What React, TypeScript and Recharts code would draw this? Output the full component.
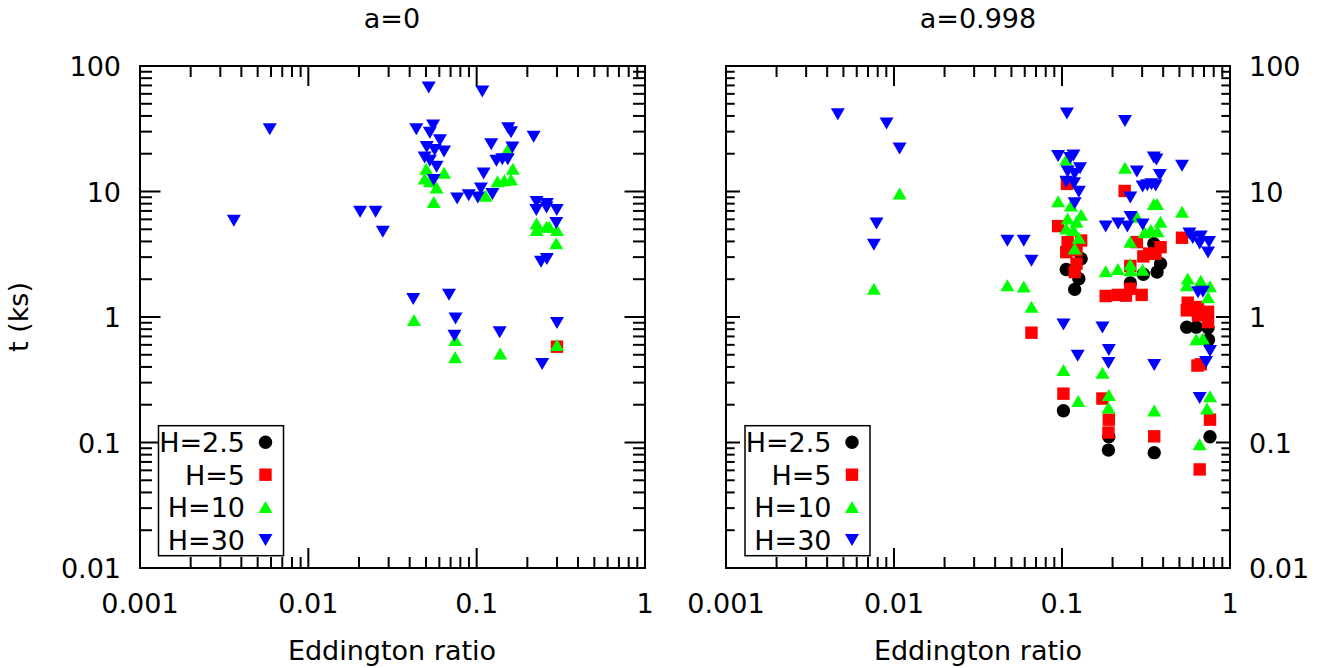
import React from 'react'
import { ScatterChart, Scatter, XAxis, YAxis } from 'recharts'

const FONT = '"DejaVu Sans", sans-serif'
const FS = 27

const xMajor = [0.001, 0.01, 0.1, 1]
const xLabels = ['0.001', '0.01', '0.1', '1']
const xMinor = [
  0.002, 0.003, 0.004, 0.005, 0.006, 0.007, 0.008, 0.009,
  0.02, 0.03, 0.04, 0.05, 0.06, 0.07, 0.08, 0.09,
  0.2, 0.3, 0.4, 0.5, 0.6, 0.7, 0.8, 0.9,
]
const yMajor = [0.01, 0.1, 1, 10, 100]
const yLabels = ['0.01', '0.1', '1', '10', '100']
const yMinor = [
  0.02, 0.03, 0.04, 0.05, 0.06, 0.07, 0.08, 0.09,
  0.2, 0.3, 0.4, 0.5, 0.6, 0.7, 0.8, 0.9,
  2, 3, 4, 5, 6, 7, 8, 9,
  20, 30, 40, 50, 60, 70, 80, 90,
]

const seriesNames = ['H=2.5', 'H=5', 'H=10', 'H=30']
const seriesColors = ['#000000', '#ff0000', '#00ff00', '#0000ff']
const seriesShapes = ['circle', 'square', 'up', 'down']

// a=0
const leftH25: { x: number; y: number }[] = []
const leftH5 = [{ x: 0.3, y: 0.58 }]
const leftH10 = [
  { x: 0.0502, y: 15.1 }, { x: 0.0491, y: 12.6 }, { x: 0.0527, y: 12.0 }, { x: 0.064, y: 14.0 },
  { x: 0.0578, y: 10.7 }, { x: 0.0556, y: 8.2 }, { x: 0.152, y: 21.2 }, { x: 0.164, y: 15.1 },
  { x: 0.133, y: 12.0 }, { x: 0.146, y: 12.2 }, { x: 0.16, y: 12.4 }, { x: 0.113, y: 9.2 },
  { x: 0.227, y: 5.53 }, { x: 0.227, y: 4.9 }, { x: 0.26, y: 5.2 }, { x: 0.27, y: 5.2 },
  { x: 0.3, y: 4.9 }, { x: 0.297, y: 3.84 }, { x: 0.0424, y: 0.94 }, { x: 0.0748, y: 0.652 },
  { x: 0.0745, y: 0.475 }, { x: 0.138, y: 0.51 }, { x: 0.3, y: 0.595 },
]
const leftH30 = [
  { x: 0.0059, y: 31.5 }, { x: 0.00361, y: 5.88 }, { x: 0.0203, y: 6.93 }, { x: 0.0251, y: 6.95 },
  { x: 0.0277, y: 4.8 }, { x: 0.0519, y: 67.7 }, { x: 0.108, y: 62.9 }, { x: 0.0438, y: 31.5 },
  { x: 0.0551, y: 33.7 }, { x: 0.0527, y: 29.5 }, { x: 0.0605, y: 25.8 }, { x: 0.0505, y: 22.8 },
  { x: 0.0563, y: 21.5 }, { x: 0.064, y: 20.9 }, { x: 0.0491, y: 18.8 }, { x: 0.0527, y: 17.7 },
  { x: 0.0578, y: 15.8 }, { x: 0.0556, y: 12.4 }, { x: 0.154, y: 32.1 }, { x: 0.16, y: 29.8 },
  { x: 0.122, y: 23.9 }, { x: 0.163, y: 22.5 }, { x: 0.218, y: 27.4 }, { x: 0.131, y: 17.7 },
  { x: 0.142, y: 18.2 }, { x: 0.153, y: 18.2 }, { x: 0.11, y: 14.0 }, { x: 0.0766, y: 8.85 },
  { x: 0.0897, y: 9.4 }, { x: 0.1015, y: 9.0 }, { x: 0.106, y: 10.6 }, { x: 0.124, y: 9.6 },
  { x: 0.227, y: 8.3 }, { x: 0.261, y: 7.98 }, { x: 0.226, y: 7.15 }, { x: 0.299, y: 7.15 },
  { x: 0.26, y: 7.5 }, { x: 0.297, y: 5.63 }, { x: 0.241, y: 2.77 }, { x: 0.261, y: 2.91 },
  { x: 0.042, y: 1.4 }, { x: 0.0685, y: 1.51 }, { x: 0.0749, y: 0.977 }, { x: 0.0738, y: 0.714 },
  { x: 0.137, y: 0.76 }, { x: 0.3, y: 0.9 }, { x: 0.245, y: 0.425 },
]

// a=0.998
const rightH25 = [
  { x: 0.106, y: 2.39 }, { x: 0.13, y: 2.91 }, { x: 0.126, y: 2.02 }, { x: 0.119, y: 1.66 },
  { x: 0.352, y: 3.84 }, { x: 0.386, y: 2.66 }, { x: 0.305, y: 2.19 }, { x: 0.368, y: 2.28 },
  { x: 0.255, y: 1.87 }, { x: 0.553, y: 0.83 }, { x: 0.63, y: 0.83 }, { x: 0.74, y: 0.82 },
  { x: 0.745, y: 0.66 }, { x: 0.102, y: 0.179 }, { x: 0.19, y: 0.111 }, { x: 0.189, y: 0.087 },
  { x: 0.354, y: 0.083 }, { x: 0.76, y: 0.111 },
]
const rightH5 = [
  { x: 0.0658, y: 0.75 }, { x: 0.107, y: 11.5 }, { x: 0.236, y: 10.1 }, { x: 0.0948, y: 5.3 },
  { x: 0.108, y: 3.95 }, { x: 0.13, y: 4.07 }, { x: 0.106, y: 3.29 }, { x: 0.122, y: 3.4 },
  { x: 0.122, y: 2.66 }, { x: 0.119, y: 2.28 }, { x: 0.279, y: 3.95 }, { x: 0.386, y: 3.6 },
  { x: 0.36, y: 3.2 }, { x: 0.305, y: 3.04 }, { x: 0.33, y: 3.2 }, { x: 0.255, y: 2.55 },
  { x: 0.518, y: 4.28 }, { x: 0.182, y: 1.47 }, { x: 0.215, y: 1.5 }, { x: 0.24, y: 1.48 },
  { x: 0.255, y: 1.68 }, { x: 0.298, y: 1.5 }, { x: 0.56, y: 1.3 }, { x: 0.553, y: 1.13 },
  { x: 0.645, y: 1.2 }, { x: 0.74, y: 1.1 }, { x: 0.645, y: 1.03 }, { x: 0.74, y: 0.91 },
  { x: 0.102, y: 0.245 }, { x: 0.174, y: 0.224 }, { x: 0.19, y: 0.152 }, { x: 0.189, y: 0.12 },
  { x: 0.354, y: 0.112 }, { x: 0.76, y: 0.152 }, { x: 0.66, y: 0.061 }, { x: 0.64, y: 0.41 },
  { x: 0.67, y: 0.42 },
]
const rightH10 = [
  { x: 0.0108, y: 9.58 }, { x: 0.00759, y: 1.67 }, { x: 0.0473, y: 1.78 }, { x: 0.0592, y: 1.74 },
  { x: 0.0658, y: 1.2 }, { x: 0.106, y: 17.9 }, { x: 0.0948, y: 8.3 }, { x: 0.113, y: 7.7 },
  { x: 0.108, y: 6.06 }, { x: 0.13, y: 6.5 }, { x: 0.122, y: 5.7 }, { x: 0.106, y: 5.05 },
  { x: 0.117, y: 4.9 }, { x: 0.126, y: 4.25 }, { x: 0.119, y: 3.5 }, { x: 0.237, y: 15.4 },
  { x: 0.352, y: 7.9 }, { x: 0.368, y: 7.9 }, { x: 0.279, y: 6.25 }, { x: 0.386, y: 5.7 },
  { x: 0.31, y: 4.7 }, { x: 0.338, y: 4.9 }, { x: 0.37, y: 4.8 }, { x: 0.255, y: 3.95 },
  { x: 0.518, y: 6.85 }, { x: 0.182, y: 2.3 }, { x: 0.215, y: 2.4 }, { x: 0.255, y: 2.62 },
  { x: 0.256, y: 2.35 }, { x: 0.302, y: 2.37 }, { x: 0.56, y: 2.02 }, { x: 0.553, y: 1.78 },
  { x: 0.67, y: 1.93 }, { x: 0.76, y: 1.75 }, { x: 0.74, y: 1.43 }, { x: 0.63, y: 0.66 },
  { x: 0.69, y: 0.67 }, { x: 0.102, y: 0.376 }, { x: 0.125, y: 0.213 }, { x: 0.174, y: 0.358 },
  { x: 0.19, y: 0.238 }, { x: 0.189, y: 0.189 }, { x: 0.354, y: 0.179 }, { x: 0.76, y: 0.232 },
  { x: 0.73, y: 0.186 }, { x: 0.66, y: 0.0964 },
]
const rightH30 = [
  { x: 0.00463, y: 41.5 }, { x: 0.00903, y: 35 }, { x: 0.0108, y: 22.1 }, { x: 0.00787, y: 5.6 },
  { x: 0.00759, y: 3.79 }, { x: 0.0473, y: 4.07 }, { x: 0.0592, y: 4.07 }, { x: 0.0658, y: 2.82 },
  { x: 0.107, y: 42 }, { x: 0.237, y: 36.7 }, { x: 0.0948, y: 19.3 }, { x: 0.117, y: 19.5 },
  { x: 0.112, y: 18.6 }, { x: 0.108, y: 14.5 }, { x: 0.119, y: 13.9 }, { x: 0.128, y: 15.4 },
  { x: 0.106, y: 12.0 }, { x: 0.118, y: 11.7 }, { x: 0.126, y: 10.0 }, { x: 0.119, y: 8.1 },
  { x: 0.352, y: 18.8 }, { x: 0.365, y: 18.1 }, { x: 0.279, y: 14.5 }, { x: 0.382, y: 13.6 },
  { x: 0.518, y: 16.1 }, { x: 0.302, y: 11.0 }, { x: 0.322, y: 11.3 }, { x: 0.341, y: 11.5 },
  { x: 0.361, y: 11.2 }, { x: 0.255, y: 9.0 }, { x: 0.182, y: 5.3 }, { x: 0.216, y: 5.6 },
  { x: 0.245, y: 5.3 }, { x: 0.256, y: 6.3 }, { x: 0.302, y: 5.5 }, { x: 0.573, y: 4.66 },
  { x: 0.6, y: 4.28 }, { x: 0.67, y: 4.4 }, { x: 0.66, y: 3.88 }, { x: 0.75, y: 3.98 },
  { x: 0.74, y: 3.29 }, { x: 0.645, y: 1.58 }, { x: 0.69, y: 1.6 }, { x: 0.102, y: 0.875 },
  { x: 0.174, y: 0.83 }, { x: 0.124, y: 0.495 }, { x: 0.19, y: 0.55 }, { x: 0.189, y: 0.433 },
  { x: 0.354, y: 0.417 }, { x: 0.76, y: 0.54 }, { x: 0.72, y: 0.44 }, { x: 0.66, y: 0.228 },
]

function Marker({ kind, cx, cy, fill }: { kind: string; cx: number; cy: number; fill: string }) {
  if (kind === 'circle') return <circle cx={cx} cy={cy} r={6.7} fill={fill} />
  if (kind === 'square') return <rect x={cx - 6.2} y={cy - 6.2} width={12.4} height={12.4} fill={fill} />
  if (kind === 'up')
    return <polygon points={`${cx - 7},${cy + 5.7} ${cx + 7},${cy + 5.7} ${cx},${cy - 6.3}`} fill={fill} />
  return <polygon points={`${cx - 7},${cy - 5.7} ${cx + 7},${cy - 5.7} ${cx},${cy + 6.3}`} fill={fill} />
}

const lineStyle = { stroke: '#000', strokeWidth: 2, strokeLinecap: 'square' as const }
// tick={false} would drop the tick lines too, so draw an empty label instead
const noLabel = () => <g />

type PanelProps = {
  left: number
  width: number
  margin: { left: number; right: number; top: number; bottom: number }
  side: 'left' | 'right'
  yMajorLen: number
  yMinorLen: number
  data: { x: number; y: number }[][]
}

function Panel({ left, width, margin, side, yMajorLen, yMinorLen, data }: PanelProps) {
  const other = side === 'left' ? 'right' : 'left'
  const xCommon = { type: 'number' as const, scale: 'log' as const, dataKey: 'x', domain: [0.001, 1], allowDataOverflow: true, interval: 0 as const }
  const yCommon = { type: 'number' as const, scale: 'log' as const, dataKey: 'y', domain: [0.01, 100], allowDataOverflow: true, interval: 0 as const }
  // tick-only axes are mirrored (ticks point inward) and 1px thick, so they stack at the plot edges
  return (
    <div style={{ position: 'absolute', left, top: 0 }}>
      <ScatterChart width={width} height={668} margin={margin}>
        <XAxis
          {...xCommon}
          xAxisId="x"
          height={50}
          ticks={xMajor}
          tickSize={0}
          tickMargin={0}
          tickLine={false}
          axisLine={lineStyle}
          tick={(p: any) => (
            <text x={p.x} y={p.y + 44.5} textAnchor="middle" fontFamily={FONT} fontSize={FS} fill="#000">
              {xLabels[xMajor.indexOf(p.payload.value)]}
            </text>
          )}
        />
        <XAxis {...xCommon} xAxisId="xb1" mirror height={1} ticks={xMajor} tickSize={19} tick={noLabel} axisLine={false} tickLine={lineStyle} />
        <XAxis {...xCommon} xAxisId="xb2" mirror height={1} ticks={xMinor} tickSize={9} tick={noLabel} axisLine={false} tickLine={lineStyle} />
        <XAxis {...xCommon} xAxisId="xt1" orientation="top" mirror height={1} ticks={xMajor} tickSize={19} tick={noLabel} axisLine={lineStyle} tickLine={lineStyle} />
        <XAxis {...xCommon} xAxisId="xt2" orientation="top" mirror height={1} ticks={xMinor} tickSize={9} tick={noLabel} axisLine={false} tickLine={lineStyle} />
        <YAxis
          {...yCommon}
          yAxisId="y"
          orientation={side}
          width={60}
          ticks={yMajor}
          tickSize={0}
          tickMargin={0}
          tickLine={false}
          axisLine={lineStyle}
          tick={(p: any) => (
            <text
              x={side === 'left' ? p.x - 19 : p.x + 19}
              y={p.y + 10}
              textAnchor={side === 'left' ? 'end' : 'start'}
              fontFamily={FONT}
              fontSize={FS}
              fill="#000"
            >
              {yLabels[yMajor.indexOf(p.payload.value)]}
            </text>
          )}
        />
        <YAxis {...yCommon} yAxisId="ys1" orientation={side} mirror width={1} ticks={yMajor} tickSize={yMajorLen} tick={noLabel} axisLine={false} tickLine={lineStyle} />
        <YAxis {...yCommon} yAxisId="ys2" orientation={side} mirror width={1} ticks={yMinor} tickSize={yMinorLen} tick={noLabel} axisLine={false} tickLine={lineStyle} />
        <YAxis {...yCommon} yAxisId="yo1" orientation={other} mirror width={1} ticks={yMajor} tickSize={yMajorLen} tick={noLabel} axisLine={lineStyle} tickLine={lineStyle} />
        <YAxis {...yCommon} yAxisId="yo2" orientation={other} mirror width={1} ticks={yMinor} tickSize={yMinorLen} tick={noLabel} axisLine={false} tickLine={lineStyle} />
        {data.map((d, i) => (
          <Scatter
            key={seriesNames[i]}
            name={seriesNames[i]}
            data={d}
            xAxisId="x"
            yAxisId="y"
            isAnimationActive={false}
            shape={(p: any) => <Marker kind={seriesShapes[i]} cx={p.cx} cy={p.cy} fill={seriesColors[i]} />}
          />
        ))}
      </ScatterChart>
    </div>
  )
}

function LegendBox({ x, y }: { x: number; y: number }) {
  return (
    <g>
      <rect x={x} y={y} width={125} height={130} fill="#fff" stroke="#000" strokeWidth={1.5} />
      {seriesNames.map((name, i) => {
        const cy = y + 16.5 + i * 32.5
        return (
          <g key={name}>
            <text x={x + 86.5} y={cy + 10} textAnchor="end" fontFamily={FONT} fontSize={FS} fill="#000">
              {name}
            </text>
            <Marker kind={seriesShapes[i]} cx={x + 107} cy={cy} fill={seriesColors[i]} />
          </g>
        )
      })}
    </g>
  )
}

export default function App() {
  return (
    <div style={{ position: 'absolute', left: 0, top: 0, width: 1329, height: 668, background: '#fff', overflow: 'hidden' }}>
      <Panel
        left={0}
        width={680}
        margin={{ left: 80, right: 35, top: 66, bottom: 50 }}
        side="left"
        yMajorLen={19.5}
        yMinorLen={10}
        data={[leftH25, leftH5, leftH10, leftH30]}
      />
      <Panel
        left={680}
        width={649}
        margin={{ left: 46, right: 39, top: 66, bottom: 50 }}
        side="right"
        yMajorLen={13}
        yMinorLen={6.7}
        data={[rightH25, rightH5, rightH10, rightH30]}
      />
      <svg width={1329} height={668} style={{ position: 'absolute', left: 0, top: 0, pointerEvents: 'none' }}>
        <text x={392} y={28} textAnchor="middle" fontFamily={FONT} fontSize={FS} fill="#000">a=0</text>
        <text x={978} y={28} textAnchor="middle" fontFamily={FONT} fontSize={FS} fill="#000">a=0.998</text>
        <text x={392} y={660} textAnchor="middle" fontFamily={FONT} fontSize={FS} fill="#000">Eddington ratio</text>
        <text x={978} y={660} textAnchor="middle" fontFamily={FONT} fontSize={FS} fill="#000">Eddington ratio</text>
        <text x={28} y={317} transform="rotate(-90, 28, 317)" textAnchor="middle" fontFamily={FONT} fontSize={FS} fill="#000">t (ks)</text>
        <LegendBox x={158.5} y={425.7} />
        <LegendBox x={745} y={425.7} />
      </svg>
    </div>
  )
}
